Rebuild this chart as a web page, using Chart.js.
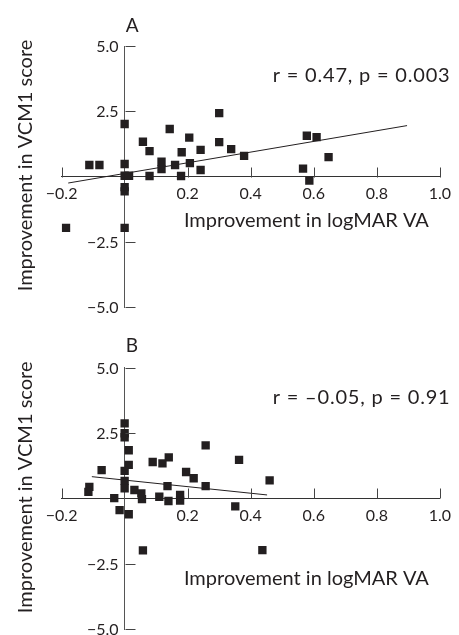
<!DOCTYPE html>
<html>
<head>
<meta charset="utf-8">
<script src="https://cdn.jsdelivr.net/npm/chart.js@4"></script>
<style>
  html, body { margin: 0; padding: 0; background: #fff; overflow: hidden; }
  #wrap { position: relative; width: 459px; height: 635px; overflow: hidden; }
  canvas { position: absolute; left: 0; }
  #panelA { top: 0; }
  #panelB { top: 300px; }
</style>
</head>
<body>
<div id="wrap">
  <canvas id="panelA" width="459" height="330"></canvas>
  <canvas id="panelB" width="459" height="345"></canvas>
</div>
<script>
// Panel A: improvement in logMAR VA vs improvement in VCM1 score
const aX = [0.00, 0.30, 0.143, 0.205, 0.058, 0.30, 0.338, 0.079, 0.241, 0.181, 0.379,
            -0.112, -0.08, 0.00, 0.117, 0.117, 0.16, 0.207, 0.241, 0.00, 0.014, 0.079,
            0.179, 0.00, 0.00, -0.186, 0.00, 0.578, 0.609, 0.647, 0.566, 0.586];
const aY = [2.01, 2.43, 1.82, 1.49, 1.33, 1.32, 1.05, 0.97, 1.02, 0.93, 0.79,
            0.44, 0.44, 0.48, 0.57, 0.28, 0.44, 0.51, 0.25, 0.03, 0.03, 0.02,
            0.02, -0.41, -0.57, -1.97, -1.97, 1.56, 1.51, 0.74, 0.30, -0.16];
const aFitX = [-0.179, 0.896];
const aFitY = [-0.25, 1.95];

// Panel B
const bX = [0.00, 0.00, 0.00, 0.013, 0.257, 0.363, 0.14, 0.089, 0.12, 0.013, -0.073,
            0.00, 0.195, 0.219, 0.00, -0.112, -0.115, 0.00, 0.136, 0.257, 0.031, 0.053,
            0.055, -0.033, 0.11, 0.176, 0.176, 0.139, -0.016, 0.013, 0.351, 0.058, 0.46, 0.437];
const bY = [2.87, 2.49, 2.34, 1.84, 2.03, 1.47, 1.57, 1.39, 1.34, 1.28, 1.08,
            1.05, 1.01, 0.77, 0.67, 0.44, 0.25, 0.38, 0.47, 0.47, 0.32, 0.19,
            -0.03, 0.01, 0.06, 0.13, -0.09, -0.10, -0.45, -0.61, -0.31, -1.99, 0.69, -1.98];
const bFitX = [-0.104, 0.452];
const bFitY = [0.83, 0.13];

// axes
const xMin = -0.2, xMax = 1.0, xStep = 0.2;
const yMin = -5, yMax = 5, yStep = 2.5;

const panelLetters = ['A', 'B'];
const statTexts = ['r = 0.47, p = 0.003', 'r = \u20130.05, p = 0.91'];
const xTitle = 'Improvement in logMAR VA';
const yTitle = 'Improvement in VCM1 score';

const INK = '#231f20';
const FONT = 'Lato, "Open Sans", sans-serif';

function fmtTick(v) {
  if (Math.abs(v) < 1e-9) return '';
  const s = v.toFixed(1);
  return s.replace('-', '\u2212');
}

function toPts(xs, ys) {
  return xs.map((x, i) => ({ x: x, y: ys[i] }));
}

// inward tick marks (up on x axis, right on y axis) + y tick labels left of the axis
const axisMarks = {
  id: 'axisMarks',
  afterDatasetsDraw(chart) {
    const { ctx, scales: { x, y } } = chart;
    const x0 = Math.round(x.getPixelForValue(0)) + 0.5;
    const y0 = Math.round(y.getPixelForValue(0)) + 0.5;
    ctx.save();
    ctx.strokeStyle = '#444';
    ctx.lineWidth = 1;
    ctx.beginPath();
    x.ticks.forEach(t => {
      if (Math.abs(t.value) < 1e-9) return;
      const px = Math.round(x.getPixelForValue(t.value)) + 0.5;
      ctx.moveTo(px, y0);
      ctx.lineTo(px, y0 - 10);
    });
    y.ticks.forEach(t => {
      if (Math.abs(t.value) < 1e-9) return;
      const py = Math.round(y.getPixelForValue(t.value)) + 0.5;
      ctx.moveTo(x0, py);
      ctx.lineTo(x0 + 10, py);
    });
    ctx.stroke();

    ctx.fillStyle = INK;
    ctx.font = '16px ' + FONT;
    ctx.textAlign = 'right';
    ctx.textBaseline = 'middle';
    y.ticks.forEach(t => {
      ctx.fillText(fmtTick(t.value), x0 - 7, y.getPixelForValue(t.value) + 1);
    });
    ctx.restore();
  }
};

// panel letter, r/p text and axis titles
const panelText = {
  id: 'panelText',
  afterDraw(chart, args, o) {
    const { ctx, scales: { x, y } } = chart;
    ctx.save();
    ctx.fillStyle = INK;
    ctx.textBaseline = 'alphabetic';

    ctx.font = '19px ' + FONT;
    ctx.textAlign = 'left';
    ctx.fillText(o.letter, x.getPixelForValue(0) + 1, y.getPixelForValue(yMax) - o.letterGap);

    ctx.font = '20px ' + FONT;
    ctx.textBaseline = 'middle';
    ctx.letterSpacing = '0.8px';
    ctx.fillText(o.stat, x.getPixelForValue(o.statX), y.getPixelForValue(o.statY));
    ctx.letterSpacing = '0px';

    ctx.textBaseline = 'alphabetic';
    ctx.fillText(xTitle, x.getPixelForValue(o.titleX), y.getPixelForValue(o.titleY));

    ctx.translate(31.5, y.getPixelForValue(0) - 11);
    ctx.rotate(-Math.PI / 2);
    ctx.textAlign = 'center';
    ctx.fillText(yTitle, 0, 0);
    ctx.restore();
  }
};

function makePanel(id, pts, fit, pad, text) {
  return new Chart(document.getElementById(id), {
    type: 'scatter',
    data: {
      datasets: [
        {
          data: pts,
          pointStyle: 'rect',
          pointRadius: 5.9,
          pointHoverRadius: 5.9,
          backgroundColor: INK,
          borderWidth: 0
        },
        {
          data: fit,
          showLine: true,
          borderColor: INK,
          borderWidth: 1,
          pointRadius: 0,
          fill: false
        }
      ]
    },
    options: {
      responsive: false,
      animation: false,
      events: [],
      layout: { padding: pad },
      plugins: {
        legend: { display: false },
        tooltip: { enabled: false },
        panelText: text
      },
      scales: {
        x: {
          type: 'linear',
          position: { y: 0 },
          min: xMin, max: xMax,
          ticks: { stepSize: xStep, callback: fmtTick, color: INK, padding: 8,
                   font: { family: FONT, size: 16 } },
          grid: { drawOnChartArea: false, drawTicks: false },
          border: { color: '#333', width: 1 }
        },
        y: {
          type: 'linear',
          position: { x: 0 },
          min: yMin, max: yMax,
          ticks: { stepSize: yStep, display: false },
          grid: { drawOnChartArea: false, drawTicks: false },
          border: { color: '#555', width: 1 }
        }
      }
    },
    plugins: [axisMarks, panelText]
  });
}

makePanel('panelA', toPts(aX, aY), toPts(aFitX, aFitY),
  { left: 61.6, right: 12.4, top: 46, bottom: 23 },
  { letter: panelLetters[0], letterGap: 14, stat: statTexts[0], statX: 0.47, statY: 3.86,
    titleX: 0.188, titleY: -1.94 });

makePanel('panelB', toPts(bX, bY), toPts(bFitX, bFitY),
  { left: 61.6, right: 12.4, top: 67.7, bottom: 16 },
  { letter: panelLetters[1], letterGap: 16, stat: statTexts[1], statX: 0.47, statY: 3.86,
    titleX: 0.188, titleY: -3.32 });
</script>
</body>
</html>
